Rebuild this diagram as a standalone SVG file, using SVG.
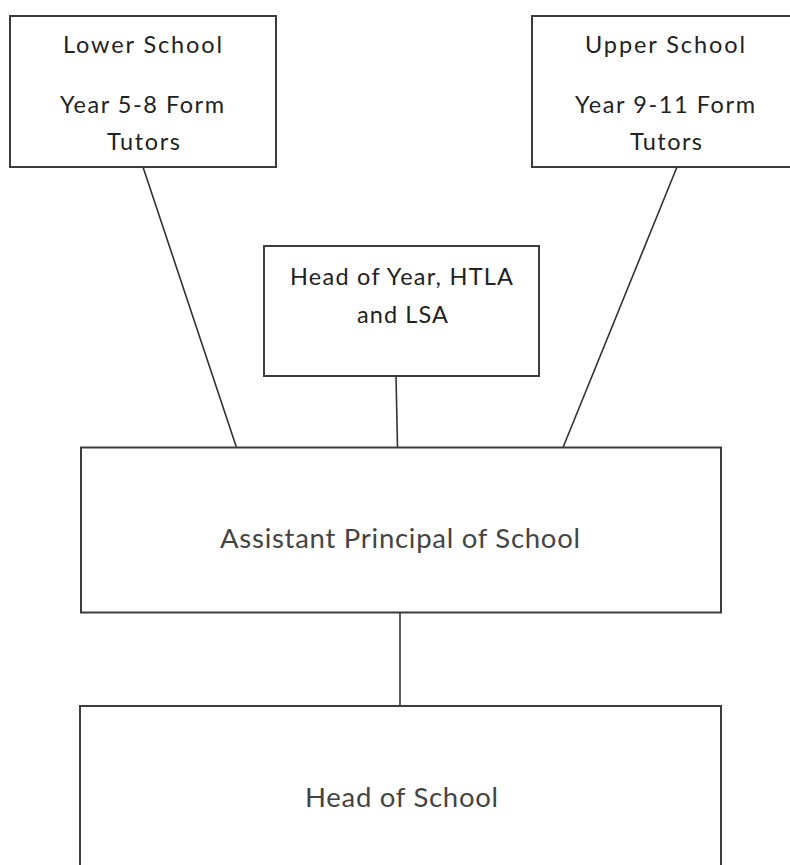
<svg xmlns="http://www.w3.org/2000/svg" width="790" height="865" viewBox="0 0 790 865">
<style>
.box{fill:#ffffff;stroke:#3c3c3c;stroke-width:2}
.conn line{stroke:#333333;stroke-width:1.6;fill:none}
.t{font-family:Lato,"Open Sans","Liberation Sans",sans-serif;text-anchor:middle}
.s{font-size:23.5px;fill:#222222}
.l{font-size:27.5px;fill:#444444}
</style>
<rect width="790" height="865" fill="#ffffff"/>
<g id="connectors" class="conn">
<line x1="143" y1="167" x2="236.5" y2="447.5"/>
<line x1="677" y1="167" x2="563" y2="447.5"/>
<line x1="396" y1="376" x2="397.5" y2="447.5"/>
<line x1="400" y1="612.5" x2="400" y2="706"/>
</g>
<g id="lower-school">
<rect class="box" x="10" y="16" width="266" height="151"/>
<text class="t s" x="142.5" y="53" textLength="159" lengthAdjust="spacing">Lower School</text>
<text class="t s" x="142" y="113" textLength="164" lengthAdjust="spacing">Year 5-8 Form</text>
<text class="t s" x="143.5" y="150" textLength="73" lengthAdjust="spacing">Tutors</text>
</g>
<g id="upper-school">
<rect class="box" x="532" y="16" width="266" height="151"/>
<text class="t s" x="665" y="53" textLength="160" lengthAdjust="spacing">Upper School</text>
<text class="t s" x="665" y="113" textLength="180" lengthAdjust="spacing">Year 9-11 Form</text>
<text class="t s" x="666" y="150" textLength="72" lengthAdjust="spacing">Tutors</text>
</g>
<g id="head-of-year">
<rect class="box" x="264" y="246" width="275" height="130"/>
<text class="t s" x="401.5" y="285" textLength="223" lengthAdjust="spacing">Head of Year, HTLA</text>
<text class="t s" x="402.5" y="323" textLength="91" lengthAdjust="spacing">and LSA</text>
</g>
<g id="assistant-principal">
<rect class="box" x="81" y="447.5" width="640" height="165"/>
<text class="t l" x="400" y="548" textLength="360" lengthAdjust="spacing">Assistant Principal of School</text>
</g>
<g id="head-of-school">
<rect class="box" x="80" y="706" width="641" height="200"/>
<text class="t l" x="401.5" y="807" textLength="193" lengthAdjust="spacing" fill="#505050">Head of School</text>
</g>
</svg>
